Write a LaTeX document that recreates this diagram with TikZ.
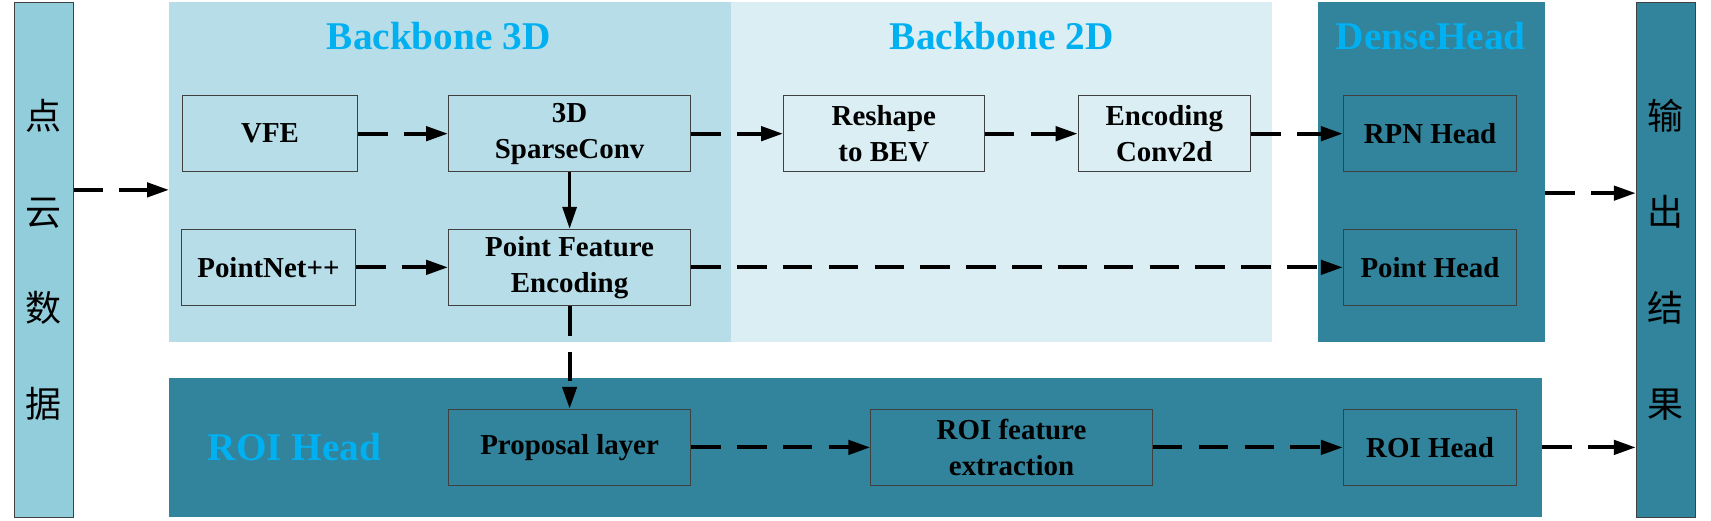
\documentclass[tikz,border=0pt]{standalone}
\usepackage{fontspec}
\setmainfont{Liberation Serif}
\newfontfamily\cjk{Noto Sans CJK SC}
\usetikzlibrary{shapes,arrows.meta,positioning}
\definecolor{BarBlue}{RGB}{146,205,220}
\definecolor{Bb3dBlue}{RGB}{183,222,232}
\definecolor{Bb2dBlue}{RGB}{218,238,243}
\definecolor{HeadTeal}{RGB}{49,132,155}
\definecolor{TitleBlue}{RGB}{0,176,240}
\tikzstyle{Region} = [rectangle, inner sep=0pt]
\tikzstyle{Bar} = [draw=black!75, line width=1pt, rectangle, inner sep=0pt, minimum width=54pt, minimum height=472pt, align=center, font=\cjk\fontsize{33}{88}\selectfont]
\tikzstyle{Block} = [draw=black!75, line width=1pt, rectangle, minimum height=70pt, align=center, font=\bfseries\fontsize{26.5}{33}\selectfont]
\tikzstyle{Title} = [text=TitleBlue, font=\bfseries\fontsize{36}{40}\selectfont]
\tikzstyle{Flow} = [line width=3.5pt, dash pattern=on 27pt off 15pt, -{Triangle[length=20pt,width=13pt]}]

\begin{document}
\begin{tikzpicture}[x=1pt, y=-1pt]
    \useasboundingbox (0,0) rectangle (1568,477);
    % regions
    \node[Region, fill=Bb3dBlue, minimum width=515pt, minimum height=311pt] (bb3d) at (412.5,157.5) {};
    \node[Region, fill=Bb2dBlue, minimum width=496pt, minimum height=311pt] (bb2d) at (918,157.5) {};
    \node[Region, fill=HeadTeal, minimum width=208pt, minimum height=311pt] (dense) at (1312,157.5) {};
    \node[Region, fill=HeadTeal, minimum width=1258pt, minimum height=128pt] (roi) at (784,410) {};
    \node[Bar, fill=BarBlue]  (input)  at (40,238)     {点\\云\\数\\据};
    \node[Bar, fill=HeadTeal] (output) at (1526.5,238) {输\\出\\结\\果};
    \node[Title] at (402,33)  {Backbone 3D};
    \node[Title] at (918,33)  {Backbone 2D};
    \node[Title] at (1311,33) {DenseHead};
    \node[Title] at (270,410) {ROI Head};
    % blocks
    \node[Block, minimum width=161pt] (vfe)       at (247.5,122.5) {VFE};
    \node[Block, minimum width=222pt] (sparse)    at (522,122.5)   {3D\\SparseConv};
    \node[Block, minimum width=160pt] (pointnet)  at (246,245)     {PointNet++};
    \node[Block, minimum width=222pt] (pfe)       at (522,245)     {Point Feature\\Encoding};
    \node[Block, minimum width=184pt] (reshape)   at (810,122.5)   {Reshape\\to BEV};
    \node[Block, minimum width=158pt] (enc)       at (1067,122.5)  {Encoding\\Conv2d};
    \node[Block, minimum width=159pt] (rpn)       at (1310.5,122.5) {RPN Head};
    \node[Block, minimum width=159pt] (pointhead) at (1310.5,245)  {Point Head};
    \node[Block, minimum width=222pt] (proposal)  at (522,410)     {Proposal layer};
    \node[Block, minimum width=258pt] (roifeat)   at (927,410)     {ROI feature\\extraction};
    \node[Block, minimum width=159pt] (roihead)   at (1310.5,410)  {ROI Head};
    % connectors
    \draw[Flow] (input.east |- 0,174) to (bb3d.west |- 0,174);
    \draw[Flow] (vfe)      to (sparse);
    \draw[Flow] (sparse)   to (reshape);
    \draw[Flow] (reshape)  to (enc);
    \draw[Flow] (enc)      to (rpn);
    \draw[Flow] (pointnet) to (pfe);
    \draw[Flow] (pfe)      to (pointhead);
    \draw[line width=2.5pt, -{Triangle[length=20pt,width=13pt]}] (sparse) to (pfe);
    \draw[Flow] (pfe)      to (proposal);
    \draw[Flow] (proposal) to (roifeat);
    \draw[Flow] (roifeat)  to (roihead);
    \draw[Flow] (dense.east |- 0,177) to (output.west |- 0,177);
    \draw[Flow] (roi)      to (output.west |- roi.east);
  \end{tikzpicture}
\end{document}
